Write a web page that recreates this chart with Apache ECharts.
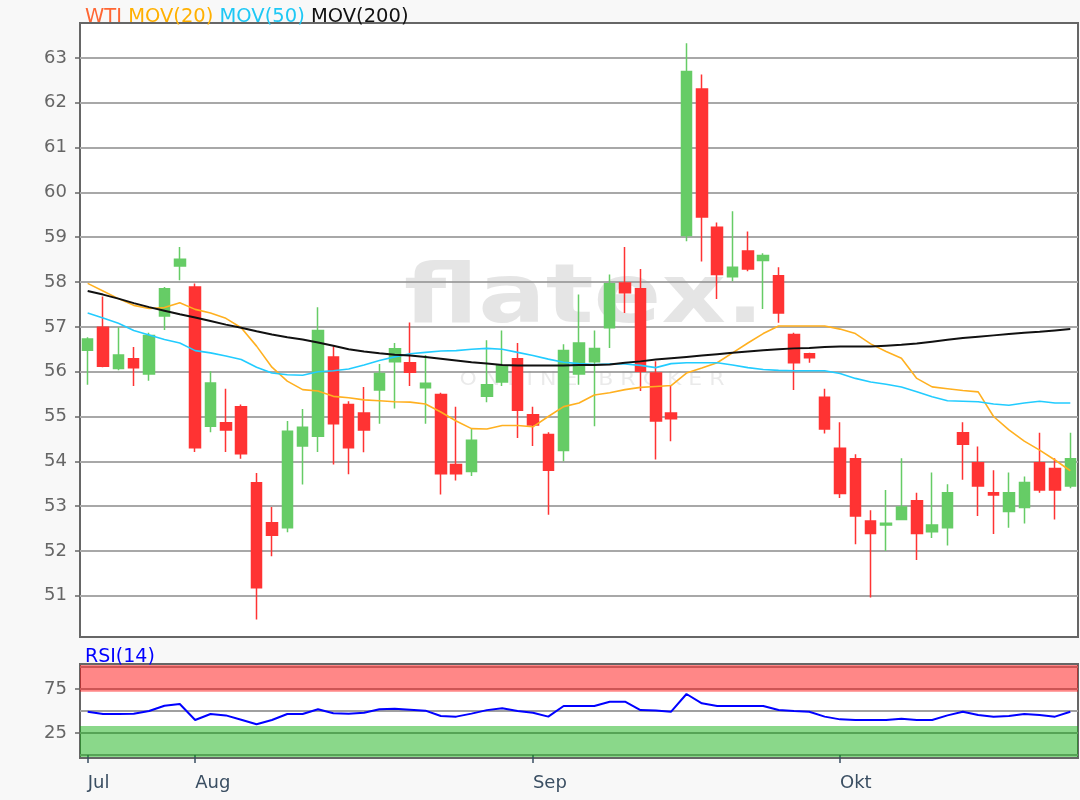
<!DOCTYPE html>
<html>
<head>
<meta charset="utf-8">
<script src="https://cdn.jsdelivr.net/npm/echarts@6/dist/echarts.min.js"></script>
<style>
html,body{margin:0;padding:0;background:#f8f8f8;}
#chart{width:1080px;height:800px;}
</style>
</head>
<body>
<div id="chart"></div>
<script>
// ---- data ----
const dates = [
 '2019-07-23','2019-07-24','2019-07-25','2019-07-26','2019-07-29','2019-07-30','2019-07-31',
 '2019-08-01','2019-08-02','2019-08-05','2019-08-06','2019-08-07','2019-08-08','2019-08-09','2019-08-12','2019-08-13','2019-08-14','2019-08-15','2019-08-16','2019-08-19','2019-08-20','2019-08-21','2019-08-22','2019-08-23','2019-08-26','2019-08-27','2019-08-28','2019-08-29','2019-08-30',
 '2019-09-03','2019-09-04','2019-09-05','2019-09-06','2019-09-09','2019-09-10','2019-09-11','2019-09-12','2019-09-13','2019-09-16','2019-09-17','2019-09-18','2019-09-19','2019-09-20','2019-09-23','2019-09-24','2019-09-25','2019-09-26','2019-09-27','2019-09-30',
 '2019-10-01','2019-10-02','2019-10-03','2019-10-04','2019-10-07','2019-10-08','2019-10-09','2019-10-10','2019-10-11','2019-10-14','2019-10-15','2019-10-16','2019-10-17','2019-10-18','2019-10-21','2019-10-22'
];
const monthNames = ['Jan','Feb','Mär','Apr','Mai','Jun','Jul','Aug','Sep','Okt','Nov','Dez'];

const open  = [56.48,56.99,56.07,56.29,55.95,57.24,58.36,57.89,54.78,54.86,55.22,53.52,52.63,52.52,54.34,54.56,56.33,55.27,55.08,55.59,56.22,56.20,55.64,55.49,53.93,53.77,55.45,55.77,56.29,55.04,54.60,54.24,55.95,56.22,56.98,57.98,57.85,55.97,55.08,59.04,62.31,59.22,58.12,58.69,58.48,58.14,56.83,56.40,55.43,54.29,54.06,52.67,52.58,52.70,53.12,52.43,52.52,54.64,53.97,53.30,52.88,52.97,53.97,53.84,53.45];
const close = [56.73,56.12,56.37,56.09,56.81,57.85,58.51,54.30,55.75,54.70,54.17,51.18,52.35,54.67,54.76,56.92,54.84,54.30,54.70,55.96,56.51,55.99,55.74,53.72,53.72,54.47,55.71,56.13,55.14,54.81,53.80,56.47,56.64,56.52,57.96,57.76,56.01,54.90,54.95,62.70,59.45,58.17,58.33,58.29,58.59,57.31,56.20,56.31,54.72,53.28,52.78,52.39,52.62,52.98,52.39,52.58,53.30,54.38,53.45,53.25,53.30,53.53,53.36,53.36,54.06];
const low   = [55.71,56.10,56.03,55.68,55.80,56.93,58.04,54.21,54.65,54.21,54.06,50.47,51.88,52.42,53.48,54.21,53.93,53.71,54.20,54.84,55.18,55.68,54.84,53.26,53.57,53.67,55.32,55.68,54.52,54.34,52.81,54.00,55.71,54.78,56.53,57.31,55.57,54.04,54.45,58.91,58.46,57.62,58.02,58.24,57.40,57.09,55.59,56.20,54.62,53.18,52.15,50.96,52.00,52.70,51.80,52.29,52.12,53.59,52.78,52.38,52.52,52.61,53.30,52.70,53.40];
const high  = [56.77,57.68,56.99,56.55,56.87,57.89,58.78,57.97,56.01,55.62,55.27,53.74,52.98,54.90,55.17,57.44,56.57,55.34,55.66,56.17,56.64,57.10,56.37,55.53,55.22,54.73,56.70,56.92,56.64,55.22,54.65,56.61,57.72,56.92,58.17,58.78,58.29,56.23,55.68,63.33,62.63,59.33,59.58,59.13,58.64,58.33,56.87,56.42,55.62,54.87,54.16,52.91,53.36,54.07,53.30,53.75,53.49,54.87,54.33,53.80,53.75,53.66,54.64,54.07,54.64];

const mov20  = [57.97,57.80,57.63,57.48,57.41,57.43,57.54,57.39,57.31,57.19,56.98,56.57,56.10,55.79,55.60,55.57,55.45,55.42,55.37,55.35,55.33,55.32,55.28,55.10,54.90,54.73,54.72,54.80,54.80,54.77,55.00,55.22,55.30,55.48,55.53,55.60,55.65,55.67,55.69,55.97,56.08,56.20,56.42,56.64,56.85,57.02,57.02,57.02,57.02,56.95,56.85,56.62,56.45,56.30,55.85,55.66,55.62,55.58,55.55,55.00,54.70,54.45,54.25,54.03,53.79];
const mov50  = [57.31,57.20,57.08,56.92,56.82,56.72,56.64,56.47,56.42,56.35,56.27,56.10,55.97,55.93,55.92,56.00,56.02,56.06,56.15,56.25,56.33,56.40,56.43,56.46,56.47,56.50,56.52,56.50,56.43,56.36,56.28,56.21,56.18,56.16,56.17,56.17,56.14,56.09,56.18,56.20,56.20,56.20,56.15,56.09,56.05,56.03,56.02,56.02,56.02,55.96,55.85,55.77,55.72,55.66,55.55,55.44,55.35,55.34,55.33,55.28,55.25,55.30,55.34,55.30,55.30];
const mov200 = [57.80,57.72,57.63,57.53,57.44,57.36,57.28,57.21,57.13,57.05,56.98,56.90,56.83,56.77,56.72,56.65,56.58,56.50,56.45,56.41,56.38,56.36,56.33,56.29,56.25,56.21,56.18,56.15,56.14,56.14,56.14,56.14,56.15,56.15,56.16,56.20,56.23,56.27,56.30,56.33,56.36,56.39,56.42,56.45,56.48,56.50,56.52,56.53,56.55,56.56,56.56,56.56,56.58,56.60,56.63,56.67,56.71,56.75,56.78,56.81,56.84,56.87,56.89,56.92,56.95];
const rsi14  = [49.2,46.5,46.6,46.8,50.0,56.0,58.0,39.8,46.6,45.0,40.0,34.9,39.8,46.6,46.6,52.0,47.5,47.0,48.1,52.0,52.5,51.5,50.4,44.3,43.6,47.0,51.0,53.0,50.0,48.1,43.6,55.7,55.7,55.7,60.6,60.6,51.1,50.5,49.2,69.3,58.7,55.7,55.7,55.7,55.7,51.1,50.0,49.2,43.6,40.5,39.8,39.8,39.8,41.3,39.8,39.8,45.0,49.2,45.5,43.6,44.3,46.6,45.5,43.6,49.2];

const priceTicks = [51,52,53,54,55,56,57,58,59,60,61,62,63];
const rsiLabelTicks = [25,75];
const rsiGridTicks = [0,25,50,75,100];
const rsiBands = { overbought: 72, oversold: 33 };

// ---- build ----
const candleData = open.map((o, i) => [o, close[i], low[i], high[i]]);
function isMonthStart(i) {
  if (i === 0) return true;
  return dates[i].slice(5, 7) !== dates[i - 1].slice(5, 7);
}
const FONT = '"DejaVu Sans", Verdana, sans-serif';
const PMIN = 50.08, PMAX = 63.78, RMIN = -3.4, RMAX = 103.4;

const chart = echarts.init(document.getElementById('chart'), null, { renderer: 'canvas' });
chart.setOption({
  animation: false,
  backgroundColor: '#f8f8f8',
  textStyle: { fontFamily: FONT },
  title: [
    {
      left: 80, top: 2,
      text: '{a|WTI} {b|MOV(20)} {c|MOV(50)} {d|MOV(200)}',
      textStyle: {
        fontSize: 19.5, fontWeight: 'normal', fontFamily: FONT,
        rich: {
          a: { color: '#ff6633', fontSize: 19.5, fontFamily: FONT },
          b: { color: '#ffb000', fontSize: 19.5, fontFamily: FONT },
          c: { color: '#1ec8f5', fontSize: 19.5, fontFamily: FONT },
          d: { color: '#111111', fontSize: 19.5, fontFamily: FONT }
        }
      }
    },
    {
      left: 80, top: 643,
      text: 'RSI(14)',
      textStyle: { fontSize: 19, fontWeight: 'normal', color: '#0000ff', fontFamily: FONT }
    }
  ],
  graphic: [
    {
      type: 'text', x: 584, y: 342, scaleX: 1.22, z: 1, silent: true,
      style: { text: 'flatex.', font: 'bold 82px "DejaVu Sans"', fill: 'rgba(150,150,150,0.25)', align: 'center', verticalAlign: 'bottom' }
    },
    {
      type: 'text', x: 592, y: 380, scaleX: 1.1, z: 1, silent: true,
      style: { text: 'O N L I N E   B R O K E R', font: '20px "DejaVu Sans"', fill: 'rgba(150,150,150,0.2)', align: 'center', verticalAlign: 'middle' }
    }
  ],
  grid: [
    { left: 80, right: 2, top: 23, height: 614, show: true, backgroundColor: '#ffffff', borderColor: '#666666', borderWidth: 2 },
    { left: 80, right: 2, top: 664, height: 94, show: true, backgroundColor: '#ffffff', borderColor: '#666666', borderWidth: 2 }
  ],
  xAxis: [
    {
      type: 'category', gridIndex: 0, data: dates, boundaryGap: true,
      axisLine: { show: false }, axisTick: { show: false }, axisLabel: { show: false }, splitLine: { show: false }
    },
    {
      type: 'category', gridIndex: 1, data: dates, boundaryGap: true,
      axisLine: { show: false },
      axisTick: { show: true, alignWithLabel: true, length: 8, interval: (i) => isMonthStart(i), lineStyle: { color: '#3a4e62', width: 1.5 } },
      axisLabel: {
        show: true, interval: (i) => isMonthStart(i), align: 'left', margin: 16,
        fontSize: 18, color: '#3a4e62', fontFamily: FONT,
        formatter: (v) => monthNames[parseInt(v.slice(5, 7), 10) - 1]
      },
      splitLine: { show: false }
    }
  ],
  yAxis: [
    {
      type: 'value', gridIndex: 0, min: PMIN, max: PMAX, position: 'left',
      axisLine: { show: false },
      axisTick: { show: true, length: 5, customValues: priceTicks, lineStyle: { color: '#666', width: 1.5 } },
      axisLabel: { show: true, customValues: priceTicks, margin: 13, fontSize: 18, color: '#666', fontFamily: FONT },
      splitLine: { show: true, lineStyle: { color: '#a8a8a8', width: 2 } }
    },
    {
      type: 'value', gridIndex: 1, min: RMIN, max: RMAX, position: 'left',
      axisLine: { show: false },
      axisTick: { show: true, length: 5, customValues: rsiLabelTicks, lineStyle: { color: '#666', width: 1.5 } },
      axisLabel: { show: true, customValues: rsiLabelTicks, margin: 13, fontSize: 18, color: '#666', fontFamily: FONT },
      splitLine: { show: false }
    },
    {
      type: 'value', gridIndex: 1, min: RMIN, max: RMAX, position: 'left',
      axisLine: { show: false },
      axisTick: { show: false, customValues: rsiGridTicks },
      axisLabel: { show: false, customValues: rsiGridTicks },
      splitLine: { show: true, lineStyle: { color: '#a0a0a0', width: 2 } }
    }
  ],
  series: [
    {
      name: 'WTI', type: 'candlestick', xAxisIndex: 0, yAxisIndex: 0, data: candleData,
      barWidth: 11,
      itemStyle: { color: '#66cc66', color0: '#ff3333', borderColor: '#66cc66', borderColor0: '#ff3333', borderWidth: 1.5 }
    },
    { name: 'MOV(20)', type: 'line', xAxisIndex: 0, yAxisIndex: 0, data: mov20, showSymbol: false, symbol: 'none', lineStyle: { color: '#ffb020', width: 1.6 }, z: 3 },
    { name: 'MOV(50)', type: 'line', xAxisIndex: 0, yAxisIndex: 0, data: mov50, showSymbol: false, symbol: 'none', lineStyle: { color: '#22ccff', width: 1.6 }, z: 3 },
    { name: 'MOV(200)', type: 'line', xAxisIndex: 0, yAxisIndex: 0, data: mov200, showSymbol: false, symbol: 'none', lineStyle: { color: '#111111', width: 2 }, z: 3 },
    {
      name: 'RSI(14)', type: 'line', xAxisIndex: 1, yAxisIndex: 1, data: rsi14, showSymbol: false, symbol: 'none',
      lineStyle: { color: '#0000ff', width: 2 }, z: 3,
      markArea: {
        silent: true,
        data: [
          [{ yAxis: rsiBands.overbought, itemStyle: { color: 'rgba(255,0,0,0.47)' } }, { yAxis: 102.3 }],
          [{ yAxis: -2.3, itemStyle: { color: 'rgba(0,170,0,0.46)' } }, { yAxis: rsiBands.oversold }]
        ]
      }
    }
  ]
});
</script>
</body>
</html>
